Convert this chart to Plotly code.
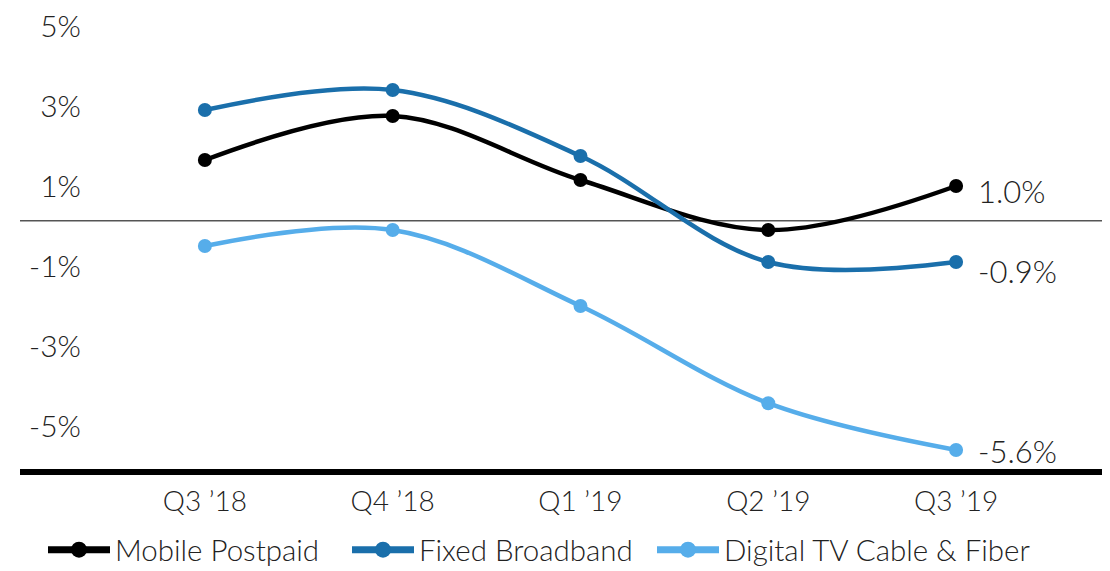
import plotly.graph_objects as go

quarters = ["Q3 \u201918", "Q4 \u201918", "Q1 \u201919", "Q2 \u201919", "Q3 \u201919"]
mobile_postpaid = [1.65, 2.75, 1.15, -0.1, 1.0]
fixed_broadband = [2.9, 3.4, 1.75, -0.9, -0.9]
digital_tv = [-0.5, -0.1, -2.0, -4.43, -5.6]

series_names = ["Mobile Postpaid", "Fixed Broadband", "Digital TV Cable & Fiber"]
series_values = [mobile_postpaid, fixed_broadband, digital_tv]
series_colors = ["#000000", "#1a6fab", "#56adea"]
label_yshift = [-5, -9, -1]

y_tickvals = [5, 3, 1, -1, -3, -5]
y_ticktext = ["5%", "3%", "1%", "-1%", "-3%", "-5%"]

FONT = "Lato"
TXT = "#222222"
WEIGHT = 300

# page body has an 8px margin, so the figure is laid out 8px smaller
FW, FH = 1102, 563
L, R = 78, 1097
T, B = 2, 464
W = R - L
H = B - T

legend_ids = ["legend", "legend2", "legend3"]
legend_px = [35, 339, 644]

fig = go.Figure()
for name, vals, col in zip(series_names, series_values, series_colors):
    fig.add_trace(go.Scatter(
        x=quarters, y=vals, mode="lines+markers", name=name,
        line=dict(color=col, width=4.5, shape="spline", smoothing=1.0),
        marker=dict(color=col, size=14),
        showlegend=False, hoverinfo="skip",
    ))
for name, col, lid in zip(series_names, series_colors, legend_ids):
    fig.add_trace(go.Scatter(
        x=[None], y=[None], mode="lines+markers", name=name,
        line=dict(color=col, width=7),
        marker=dict(color=col, size=18),
        showlegend=True, legend=lid,
    ))

for vals, col, ys in zip(series_values, series_colors, label_yshift):
    fig.add_annotation(
        x=quarters[-1], y=vals[-1], text=f"{vals[-1]:.1f}%",
        xanchor="left", yanchor="middle", showarrow=False,
        xshift=20, yshift=ys,
        font=dict(family=FONT, size=31, color=TXT, weight=WEIGHT),
    )

fig.add_shape(type="line", xref="paper", yref="y",
              x0=(12 - L) / W, x1=1.0, y0=0.13, y1=0.13,
              line=dict(color="#555555", width=1.5), layer="below")
fig.add_shape(type="line", xref="paper", yref="paper",
              x0=(12 - L) / W, x1=(FW - L) / W, y0=0, y1=0,
              line=dict(color="#000000", width=6), layer="above")

legend_style = dict(
    orientation="h", xanchor="left",
    y=(B - 542) / H, yanchor="middle",
    font=dict(family=FONT, size=29.5, color=TXT, weight=WEIGHT),
    itemwidth=62, bgcolor="rgba(0,0,0,0)",
)

fig.update_layout(
    width=FW, height=FH,
    margin=dict(l=L, r=FW - R, t=T, b=FH - B, autoexpand=False),
    paper_bgcolor="white", plot_bgcolor="white",
    font=dict(family=FONT, size=28, color=TXT, weight=WEIGHT),
    xaxis=dict(
        type="category", range=[-0.633, 4.793],
        showgrid=False, zeroline=False, showline=False, ticks="",
        ticklabelstandoff=10,
        tickfont=dict(family=FONT, size=28, color=TXT, weight=WEIGHT),
    ),
    yaxis=dict(
        range=[-6.15, 5.4], tickvals=y_tickvals, ticktext=y_ticktext,
        showgrid=False, zeroline=False, showline=False, ticks="",
        ticklabelstandoff=4, ticklabeloverflow="allow",
        tickfont=dict(family=FONT, size=30, color=TXT, weight=WEIGHT),
    ),
)
for lid, px in zip(legend_ids, legend_px):
    fig.update_layout({lid: dict(legend_style, x=(px - L) / W)})

fig.write_html("out.html")
